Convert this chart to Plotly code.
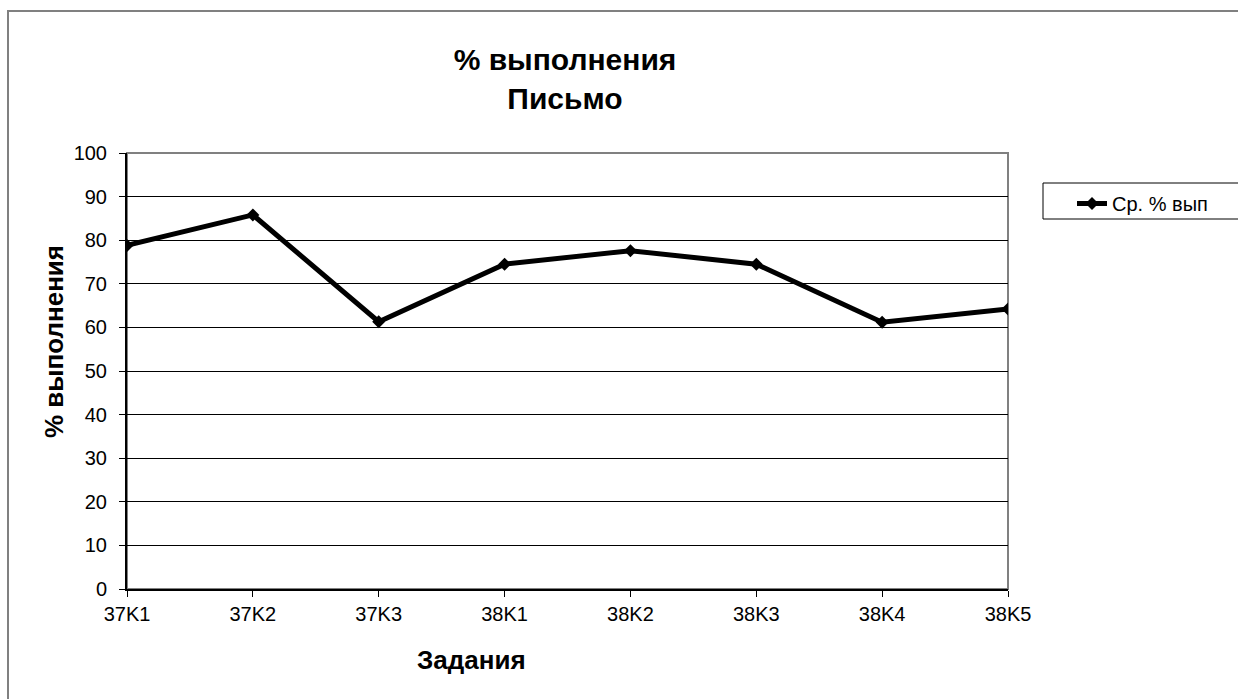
import plotly.graph_objects as go

# Average completion per task
tasks = ["37K1", "37K2", "37K3", "38K1", "38K2", "38K3", "38K4", "38K5"]
completion = [78.8, 85.8, 61.3, 74.5, 77.6, 74.5, 61.2, 64.2]
series_name = "Ср. % вып"
y_ticks = [0, 10, 20, 30, 40, 50, 60, 70, 80, 90, 100]

W, H = 1238, 699
L, R, T, B = 127, 1008, 153, 589   # plot area in pixels
pw, ph = R - L, B - T


def px(x):
    return (x - L) / pw


def py(y):
    return (B - y) / ph


FONT = "Liberation Sans, Arial, sans-serif"

fig = go.Figure()
fig.add_trace(go.Scatter(
    x=list(range(len(tasks))), y=completion, name=series_name,
    mode="lines+markers",
    line=dict(color="black", width=5),
    marker=dict(symbol="diamond", size=10, color="black"),
))

shapes = [
    # outer chart frame
    dict(type="rect", xref="paper", yref="paper",
         x0=px(8), x1=px(1260), y0=py(11), y1=py(720),
         line=dict(color="#808080", width=2), layer="below"),
    # plot area frame
    dict(type="rect", xref="paper", yref="paper",
         x0=0, x1=1, y0=0, y1=1,
         line=dict(color="#808080", width=2), layer="below"),
    # legend box
    dict(type="rect", xref="paper", yref="paper",
         x0=px(1043), x1=px(1260), y0=py(183), y1=py(219),
         line=dict(color="black", width=1)),
]

annotations = [
    dict(text="<b>Задания</b>", xref="paper", yref="paper",
         x=px(471), y=py(660), xanchor="center", yanchor="middle",
         showarrow=False,
         font=dict(family=FONT, size=26, color="black")),
    dict(text="<b>% выполнения</b>", xref="paper", yref="paper",
         x=px(54), y=py(342), xanchor="center", yanchor="middle",
         showarrow=False, textangle=-90,
         font=dict(family=FONT, size=26, color="black")),
]

fig.update_layout(
    width=W, height=H,
    margin=dict(l=L, r=W - R, t=T, b=H - B, pad=0),
    paper_bgcolor="white", plot_bgcolor="white",
    font=dict(family=FONT, color="black", size=19),
    title=dict(text="<b>% выполнения<br>Письмо</b>",
               x=px(565), xref="paper", xanchor="center",
               y=1 - 70 / H, yref="container", yanchor="top",
               font=dict(family=FONT, size=30, color="black")),
    showlegend=True,
    legend=dict(x=px(1072), y=py(184), xanchor="left", yanchor="top",
                bgcolor="rgba(0,0,0,0)", borderwidth=0,
                font=dict(family=FONT, size=20, color="black")),
    shapes=shapes, annotations=annotations,
)

fig.update_xaxes(
    range=[0, len(tasks) - 1],
    tickmode="array", tickvals=list(range(len(tasks))), ticktext=tasks,
    ticks="outside", ticklen=6, tickcolor="black", tickwidth=1,
    showline=True, linecolor="black", linewidth=2,
    showgrid=False, zeroline=False,
    tickfont=dict(family=FONT, size=20, color="black"),
)
fig.update_yaxes(
    range=[0, 100], tickvals=y_ticks,
    ticks="outside", ticklen=6, tickcolor="black", tickwidth=1,
    ticklabelstandoff=8,
    showline=True, linecolor="black", linewidth=2,
    showgrid=True, gridcolor="black", gridwidth=1, zeroline=False,
    tickfont=dict(family=FONT, size=20, color="black"),
)

fig.write_html("out.html")
